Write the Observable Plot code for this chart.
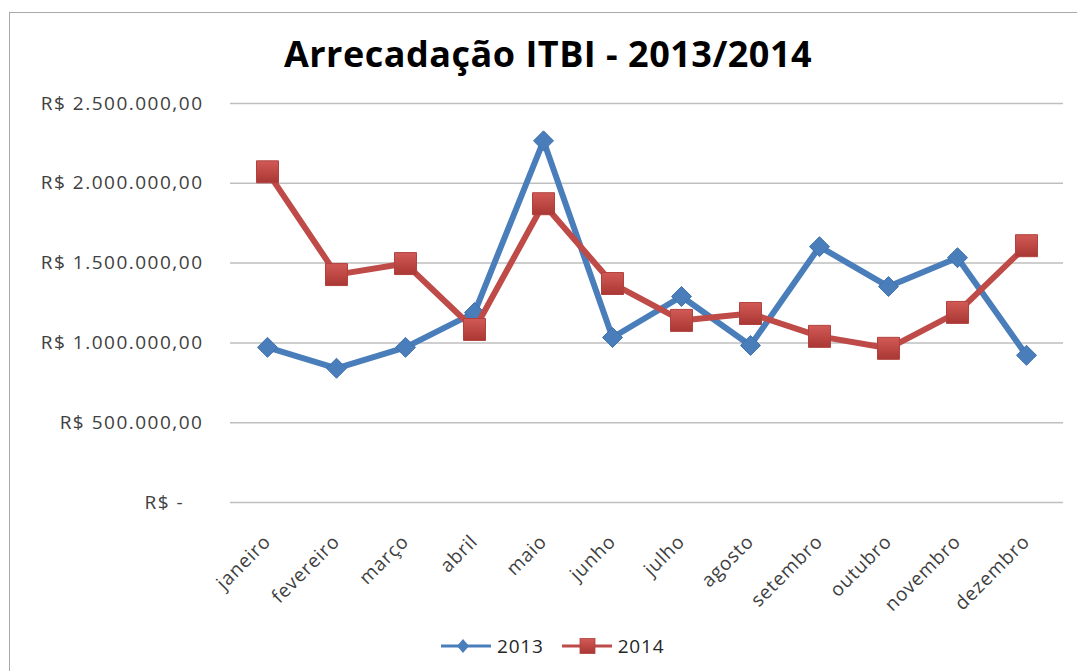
<!DOCTYPE html>
<html>
<head>
<meta charset="utf-8">
<script src="https://cdn.jsdelivr.net/npm/d3@7"></script>
<script src="https://cdn.jsdelivr.net/npm/@observablehq/plot@0.6"></script>
<style>
  body { margin: 0; background: #fff; }
  #wrap { position: relative; width: 1077px; height: 671px; overflow: hidden; font-family: "Open Sans", sans-serif; background: #fff; }
  #frame { position: absolute; left: 9px; top: 12px; width: 1200px; height: 800px; border-left: 1.5px solid #a9a9a9; border-top: 1.5px solid #a9a9a9; }
  #title { position: absolute; top: 36px; left: 548px; transform: translateX(-50%); font-size: 36px; letter-spacing: 0.5px; font-weight: bold; line-height: 1; white-space: nowrap; color: #000; }
  #chart { position: absolute; left: 0; top: 0; }
  #legend { position: absolute; top: 633px; left: 441px; height: 26px; display: flex; align-items: center; font-size: 19px; letter-spacing: 0.8px; color: #262626; }
  #legend span { margin-left: 6px; margin-right: 18px; }
  #chart svg g[aria-label="y-axis tick label"] text { letter-spacing: 1.5px; }
  #chart svg g[aria-label="x-axis tick label"] text { letter-spacing: 0.8px; }
</style>
</head>
<body>
<div id="wrap">
  <div id="frame"></div>
  <div id="chart"></div>
  <div id="title"></div>
  <div id="legend"></div>
</div>
<script>
const title = "Arrecadação ITBI - 2013/2014";
const months = ["janeiro", "fevereiro", "março", "abril", "maio", "junho", "julho", "agosto", "setembro", "outubro", "novembro", "dezembro"];
const v2013 = [972000, 841000, 972000, 1190000, 2266000, 1034000, 1291000, 984000, 1603000, 1353000, 1534000, 922000];
const v2014 = [2072000, 1428000, 1497000, 1084000, 1872000, 1372000, 1141000, 1184000, 1041000, 966000, 1191000, 1609000];
const seriesNames = ["2013", "2014"];
const seriesColors = ["#4a7ebb", "#be4b48"];
const yTicks = [0, 500000, 1000000, 1500000, 2000000, 2500000];

document.getElementById("title").textContent = title;

const locale = d3.formatLocale({decimal: ",", thousands: ".", grouping: [3], currency: ["R$ ", ""]});
const num = locale.format(",.2f");
const fmt = d => d === 0 ? "R$ -\u00a0\u00a0\u00a0" : "R$ " + num(d);

const rows = [];
months.forEach((m, i) => {
  rows.push({month: m, year: seriesNames[0], value: v2013[i]});
  rows.push({month: m, year: seriesNames[1], value: v2014[i]});
});
const s13 = rows.filter(d => d.year === seriesNames[0]);
const s14 = rows.filter(d => d.year === seriesNames[1]);

const plot = Plot.plot({
  width: 1077,
  height: 620,
  marginLeft: 230,
  marginRight: 14,
  marginTop: 103,
  marginBottom: 118,
  style: {fontFamily: "'Open Sans', sans-serif", fontSize: "19px", color: "#404040", background: "transparent", overflow: "visible"},
  x: {type: "point", domain: months, padding: 0.5},
  y: {domain: [0, 2500000]},
  marks: [
    Plot.gridY(yTicks, {stroke: "#bfbfbf", strokeOpacity: 1, strokeWidth: 1.5}),
    Plot.axisY(yTicks, {tickFormat: fmt, label: null, tickSize: 0, tickPadding: 27, fontSize: 19}),
    Plot.axisX(months, {label: null, tickSize: 0, tickPadding: 36, tickRotate: -45, fontSize: 19}),
    Plot.line(s13, {x: "month", y: "value", stroke: seriesColors[0], strokeWidth: 6, strokeLinejoin: "round"}),
    Plot.dot(s13, {x: "month", y: "value", symbol: "diamond2", r: 9, fill: seriesColors[0], stroke: "#3f72ae", strokeWidth: 1}),
    Plot.line(s14, {x: "month", y: "value", stroke: seriesColors[1], strokeWidth: 6, strokeLinejoin: "round"}),
    Plot.dot(s14, {x: "month", y: "value", symbol: "square", r: 12.4, fill: "url(#redgrad)", stroke: "#b0413e", strokeWidth: 1})
  ]
});

// gradient for the square markers
const ns = "http://www.w3.org/2000/svg";
const defs = document.createElementNS(ns, "defs");
defs.innerHTML = '<linearGradient id="redgrad" x1="0" y1="0" x2="0" y2="1"><stop offset="0" stop-color="#d25a56"/><stop offset="1" stop-color="#a93733"/></linearGradient>';
plot.insertBefore(defs, plot.firstChild);
document.getElementById("chart").appendChild(plot);

// legend
const legend = document.getElementById("legend");
seriesNames.forEach((name, i) => {
  const svg = document.createElementNS(ns, "svg");
  svg.setAttribute("width", 50);
  svg.setAttribute("height", 18);
  const marker = i === 0
    ? '<path d="M22 2 L28 9 L22 16 L16 9Z" fill="' + seriesColors[i] + '"/>'
    : '<rect x="18" y="1.5" width="15" height="15" fill="url(#redgrad)" stroke="#b0413e" stroke-width="0.8"/>';
  svg.innerHTML = '<line x1="0" x2="50" y1="9" y2="9" stroke="' + seriesColors[i] + '" stroke-width="3"/>' + marker;
  legend.appendChild(svg);
  const sp = document.createElement("span");
  sp.textContent = name;
  legend.appendChild(sp);
});
</script>
</body>
</html>
